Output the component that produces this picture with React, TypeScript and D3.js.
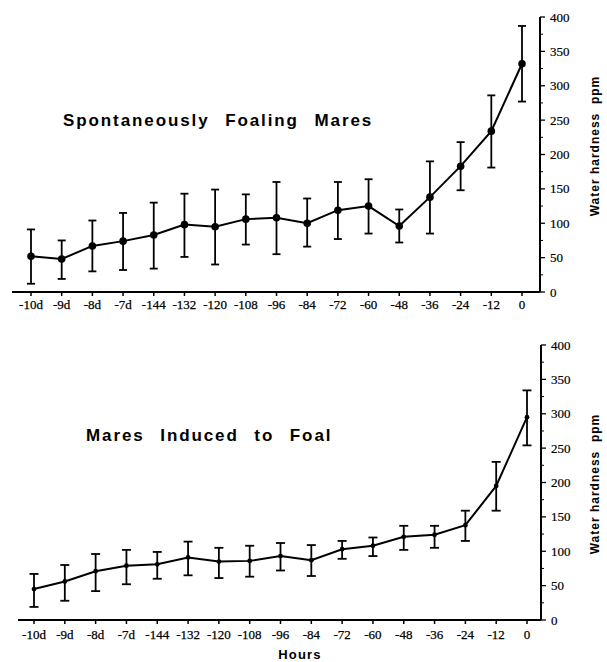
import React from "react";
import * as d3 from "d3";

const categories = ["-10d", "-9d", "-8d", "-7d", "-144", "-132", "-120", "-108", "-96", "-84", "-72", "-60", "-48", "-36", "-24", "-12", "0"];

const spontMean = [52, 48, 67, 74, 83, 98, 95, 106, 108, 100, 119, 125, 96, 138, 183, 234, 332];
const spontUpper = [91, 75, 104, 115, 130, 143, 149, 142, 160, 136, 160, 164, 120, 190, 218, 286, 387];
const spontLower = [12, 19, 30, 32, 34, 51, 40, 69, 55, 66, 77, 85, 72, 85, 148, 181, 277];

const inducedMean = [45, 56, 71, 79, 81, 91, 85, 86, 93, 87, 103, 108, 121, 124, 138, 195, 295];
const inducedUpper = [67, 80, 96, 102, 99, 114, 105, 108, 112, 109, 115, 120, 137, 137, 159, 230, 334];
const inducedLower = [19, 28, 42, 52, 60, 65, 61, 63, 72, 64, 89, 93, 102, 105, 115, 159, 254];

const yMajorTicks = [0, 50, 100, 150, 200, 250, 300, 350, 400];
const yMinorTicks = [25, 75, 125, 175, 225, 275, 325, 375];

const titles = ["Spontaneously Foaling Mares", "Mares Induced to Foal"];
const yTitle = "Water hardness  ppm";
const xTitle = "Hours";

type PanelProps = {
  mean: number[];
  upper: number[];
  lower: number[];
  xRange: [number, number];
  yRange: [number, number];
  axisX: number;
  axisLeft: number;
  dotR: number;
  capW: number;
  title: string;
  titleX: number;
  titleY: number;
  yTitleY: number;
  tickLabelOffset: number;
};

const serif = "'Liberation Serif', 'Times New Roman', Times, serif";
const sans = "'Liberation Sans', Arial, Helvetica, sans-serif";

function Panel(p: PanelProps) {
  const x = d3.scalePoint<string>().domain(categories).range(p.xRange).padding(0);
  const y = d3.scaleLinear().domain([0, 400]).range(p.yRange);
  const line = d3
    .line<number>()
    .x((_, i) => x(categories[i]) as number)
    .y((d) => y(d));
  const y0 = y(0);
  return (
    <g>
      <line x1={p.axisLeft} x2={p.axisX} y1={y0} y2={y0} stroke="#000" strokeWidth={2} />
      {categories.map((c) => (
        <g key={c}>
          <line x1={x(c)} x2={x(c)} y1={y0} y2={y0 + 4} stroke="#000" strokeWidth={1.5} />
          <text
            x={x(c)}
            y={y0 + p.tickLabelOffset}
            textAnchor="middle"
            fontFamily={serif}
            fontSize={13}
            stroke="#000"
            strokeWidth={0.25}
          >
            {c}
          </text>
        </g>
      ))}
      <line x1={p.axisX} x2={p.axisX} y1={y(400)} y2={y0} stroke="#000" strokeWidth={2} />
      {yMajorTicks.map((t) => (
        <g key={t}>
          <line x1={p.axisX} x2={p.axisX + 5} y1={y(t)} y2={y(t)} stroke="#000" strokeWidth={1.3} />
          <text
            x={p.axisX + 10}
            y={y(t) + 4.5}
            fontFamily={serif}
            fontSize={13}
            stroke="#000"
            strokeWidth={0.2}
          >
            {t}
          </text>
        </g>
      ))}
      {yMinorTicks.map((t) => (
        <line key={t} x1={p.axisX} x2={p.axisX + 3} y1={y(t)} y2={y(t)} stroke="#000" strokeWidth={1} />
      ))}
      {categories.map((c, i) => (
        <g key={"e" + c} stroke="#000" strokeWidth={1.8}>
          <line x1={x(c)} x2={x(c)} y1={y(p.upper[i])} y2={y(p.lower[i])} />
          <line x1={(x(c) as number) - p.capW / 2} x2={(x(c) as number) + p.capW / 2} y1={y(p.upper[i])} y2={y(p.upper[i])} />
          <line x1={(x(c) as number) - p.capW / 2} x2={(x(c) as number) + p.capW / 2} y1={y(p.lower[i])} y2={y(p.lower[i])} />
        </g>
      ))}
      <path d={line(p.mean) || ""} fill="none" stroke="#000" strokeWidth={2} />
      {categories.map((c, i) => (
        <circle key={"d" + c} cx={x(c)} cy={y(p.mean[i])} r={p.dotR} fill="#000" />
      ))}
      <text
        x={p.titleX}
        y={p.titleY}
        fontFamily={sans}
        fontWeight="bold"
        fontSize={17}
        letterSpacing={1.9}
        wordSpacing={9}
      >
        {p.title}
      </text>
      <text
        transform={`translate(599,${p.yTitleY}) rotate(-90)`}
        textAnchor="middle"
        fontFamily={sans}
        fontWeight="bold"
        fontSize={12}
        letterSpacing={1}
        style={{ whiteSpace: "pre" }}
      >
        {yTitle}
      </text>
    </g>
  );
}

export default function App() {
  return (
    <svg
      width={607}
      height={662}
      style={{ position: "absolute", left: 0, top: 0, background: "#fff" }}
    >
      <rect width={607} height={662} fill="#fff" />
      <Panel
        mean={spontMean}
        upper={spontUpper}
        lower={spontLower}
        xRange={[31, 522]}
        yRange={[292, 17]}
        axisX={540}
        axisLeft={12}
        dotR={3.8}
        capW={8}
        title={titles[0]}
        titleX={63}
        titleY={126}
        yTitleY={146}
        tickLabelOffset={17}
      />
      <Panel
        mean={inducedMean}
        upper={inducedUpper}
        lower={inducedLower}
        xRange={[34, 527]}
        yRange={[620, 345]}
        axisX={541}
        axisLeft={18}
        dotR={2.4}
        capW={9}
        title={titles[1]}
        titleX={86}
        titleY={441}
        yTitleY={484}
        tickLabelOffset={19}
      />
      <text
        x={300}
        y={659}
        textAnchor="middle"
        fontFamily={sans}
        fontWeight="bold"
        fontSize={13}
        letterSpacing={1.2}
      >
        {xTitle}
      </text>
    </svg>
  );
}
